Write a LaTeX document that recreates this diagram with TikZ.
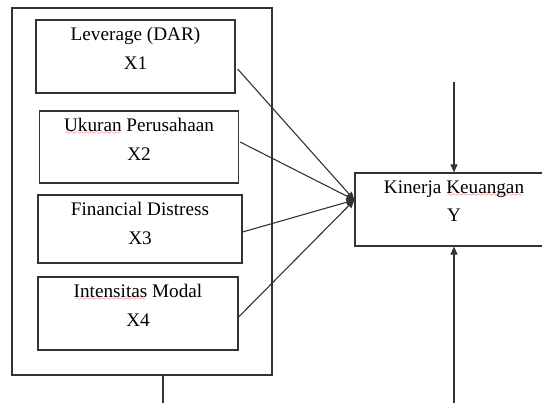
\documentclass[tikz,border=0pt]{standalone}
\usepackage{fontspec}
\setmainfont{Liberation Serif}
\usetikzlibrary{arrows.meta,positioning}
\font\wavefont=lasy6
\newcommand\redwave[1]{\leavevmode\setbox0\hbox{#1}\rlap{\textcolor{red}{\lower3pt\hbox to\wd0{\cleaders\hbox{\wavefont\char58}\hfill}}}\box0\relax}

\begin{document}
\begin{tikzpicture}[x=1pt,y=-1pt]

    \tikzset{
      varbox/.style={
        draw=black!80,
        line width=1.2pt,
        rectangle,
        inner sep=0pt,
      },
      vartext/.style={
        anchor=north,
        inner sep=0pt,
        align=center,
        font=\fontsize{19.2}{28.5}\selectfont,
      },
      link/.style={
        draw=black!80,
        line width=1.1pt,
        -{Triangle[length=8pt,width=7pt]},
      },
    }
    \useasboundingbox (0,0) rectangle (542,403);
	\node[varbox, minimum width=260pt, minimum height=367pt] (frame) at (142,191.5) {};
	\node[varbox, minimum width=199pt, minimum height=73pt] (x1) at (135.5,56.5) {};
	\node[varbox, minimum width=199pt, minimum height=72pt] (x2) at (139,147) {};
	\node[varbox, minimum width=204pt, minimum height=68pt] (x3) at (140,229) {};
	\node[varbox, minimum width=200pt, minimum height=73pt] (x4) at (138,313.5) {};
	\node[varbox, minimum width=198pt, minimum height=73pt] (y) at (454,209.5) {};
	\node[vartext] (t1) at ([yshift=-8pt]x1.north) {Leverage (DAR)\\X1};
	\node[vartext] (t2) at ([yshift=-8pt]x2.north) {\redwave{Ukuran} Perusahaan\\X2};
	\node[vartext] (t3) at ([yshift=-8pt]x3.north) {Financial Distress\\X3};
	\node[vartext] (t4) at ([yshift=-8pt]x4.north) {\redwave{Intensitas} Modal\\X4};
	\node[vartext] (ty) at ([yshift=-8pt]y.north) {Kinerja \redwave{Keuangan}\\Y};
	\coordinate (yin) at ([yshift=9.5pt]y.west);
	\coordinate (ytop) at (454,82);
	\coordinate (ybot) at (454,403);
	\coordinate (fbot) at (163,403);
	\draw[link] ([xshift=2pt,yshift=-12.5pt]x1.east) -- (yin);
	\draw[link] ([xshift=1pt,yshift=5pt]x2.east) -- (yin);
	\draw[link] ([yshift=-3pt]x3.east) -- (yin);
	\draw[link] ([yshift=-3.5pt]x4.east) -- (yin);
	\draw[link] (ytop) -- (y.north);
	\draw[link] (ybot) -- (y.south);
	\draw[draw=black!80, line width=1.2pt] ([xshift=21pt]frame.south) -- (fbot);

\end{tikzpicture}
\end{document}
